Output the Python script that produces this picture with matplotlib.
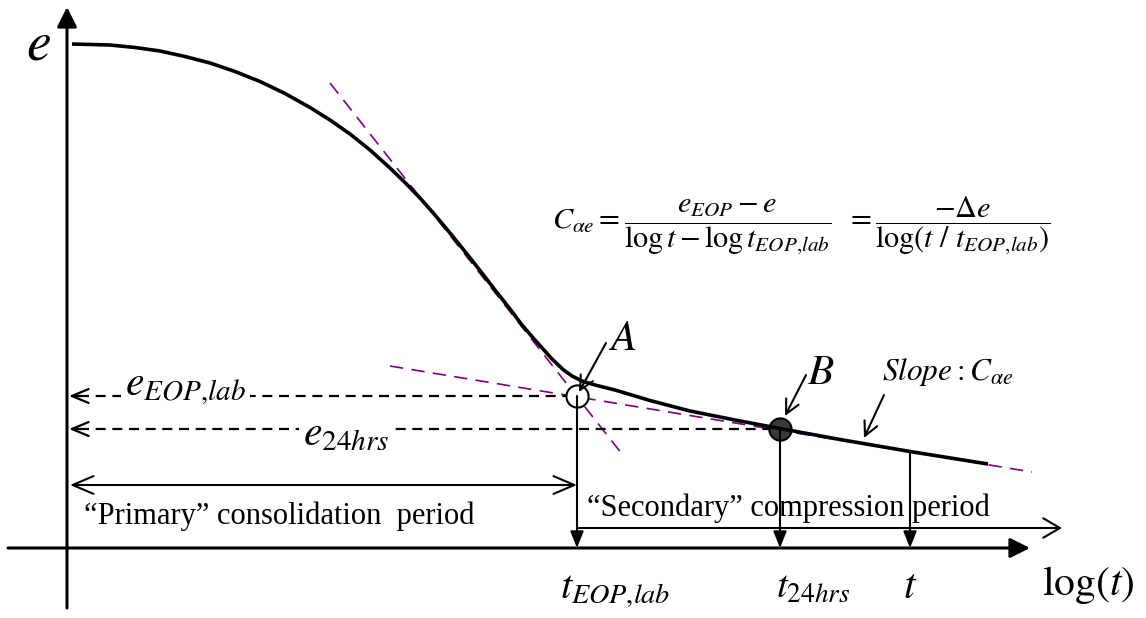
import numpy as np
import matplotlib
matplotlib.use("Agg")
import matplotlib.pyplot as plt

plt.rcParams['font.family'] = ['Liberation Serif', 'DejaVu Serif']
plt.rcParams['mathtext.fontset'] = 'stix'

# e - log(t) consolidation curve (schematic units)
log_t = [0.05, 0.43, 0.68, 0.93, 1.18, 1.43, 1.68, 1.93, 2.18, 2.43, 2.63, 2.83,
         3.03, 3.23, 3.38, 3.53, 3.68, 3.83, 3.98, 4.13, 4.28, 4.43, 4.55, 4.68,
         4.85, 4.96, 5.05, 5.15, 5.28, 5.48, 5.83, 6.23, 6.73, 7.13, 7.73, 8.43,
         9.21]
void_ratio = [5.04, 5.03, 5.005, 4.97, 4.915, 4.85, 4.765, 4.665, 4.545, 4.405, 4.28, 4.14,
              3.98, 3.80, 3.655, 3.50, 3.33, 3.15, 2.965, 2.775, 2.58, 2.39, 2.23, 2.08,
              1.89, 1.785, 1.72, 1.67, 1.63, 1.58, 1.475, 1.37, 1.27, 1.195, 1.085, 0.965,
              0.84]

# key points on the curve
t_eop, e_eop = 5.10, 1.52
t_24, e_24 = 7.13, 1.19
t_any, e_any = 8.43, 0.965

# construction lines (tangents)
steep_x, steep_y = [2.63, 5.55], [4.65, 0.94]
gentle_x, gentle_y = [3.23, 9.65], [1.82, 0.76]

fig = plt.figure(figsize=(11.46, 6.18), dpi=100)
ax = fig.add_axes([0, 0, 1, 1])
ax.set_xlim(-0.67, 10.79)
ax.set_ylim(-0.70, 5.48)
ax.axis('off')

def arrow(tail, tip, style, lw=1.5, **kw):
    ax.annotate('', xy=tip, xytext=tail,
                arrowprops=dict(arrowstyle=style, lw=lw, color='black',
                                shrinkA=0, shrinkB=0, mutation_scale=20, **kw))

# axes
arrow((0, -0.60), (0, 5.41), '-|>,head_length=0.6,head_width=0.3', lw=2.2)
arrow((-0.59, 0), (9.63, 0), '-|>,head_length=0.6,head_width=0.3', lw=2.2)

# tangent lines
purple = '#800080'
ax.plot(steep_x, steep_y, color=purple, lw=1.2, ls=(0, (8, 5)), zorder=2)
ax.plot(gentle_x, gentle_y, color=purple, lw=1.2, ls=(0, (8, 5)), zorder=2)

# dashed projections to the e axis
dash = (0, (4.5, 3))
ax.plot([0.12, t_eop], [e_eop, e_eop], color='black', lw=1.6, ls=dash, zorder=3)
ax.plot([0.12, t_24], [e_24, e_24], color='black', lw=1.6, ls=dash, zorder=3)
arrow((0.14, e_eop), (0.02, e_eop), '->,head_length=0.6,head_width=0.25', lw=1.6)
arrow((0.14, e_24), (0.02, e_24), '->,head_length=0.6,head_width=0.25', lw=1.6)

# points A and B
ax.plot(t_eop, e_eop, 'o', ms=16, mfc='white', mec='black', mew=1.5, zorder=3)
ax.plot(t_24, e_24, 'o', ms=16, mfc='#3a3a3a', mec='black', mew=1.5, zorder=3)

# main curve
ax.plot(log_t, void_ratio, color='black', lw=2.6, zorder=4,
        solid_capstyle='butt', solid_joinstyle='round')

# drop lines to the log(t) axis
head = '-|>,head_length=0.5,head_width=0.2'
arrow((t_eop, e_eop), (t_eop, 0), head)
arrow((t_24, e_24), (t_24, 0), head)
arrow((t_any, e_any), (t_any, 0), head)

# periods
arrow((0.03, 0.63), (t_eop, 0.63), '<->,head_length=0.75,head_width=0.32')
arrow((t_eop, 0.20), (9.95, 0.20), '->,head_length=0.6,head_width=0.35')

# pointer arrows
lab = '->,head_length=0.5,head_width=0.25'
arrow((5.39, 2.05), (5.12, 1.56), lab)
arrow((7.39, 1.73), (7.18, 1.32), lab)
arrow((8.17, 1.53), (7.97, 1.10), lab)

# labels
ax.text(-0.29, 4.88, r'$e$', fontsize=40, ha='center', va='baseline')
ax.text(0.58, 1.53, r'$e_{EOP{,}lab}$', fontsize=30, ha='left', va='baseline',
        bbox=dict(fc='white', ec='none', pad=3), zorder=5)
ax.text(2.36, 1.03, r'$e_{24hrs}$', fontsize=30, ha='left', va='baseline',
        bbox=dict(fc='white', ec='none', pad=3), zorder=5)
ax.text(5.41, 1.98, r'$A$', fontsize=31, ha='left', va='baseline')
ax.text(7.40, 1.64, r'$B$', fontsize=31, ha='left', va='baseline')
ax.text(8.15, 1.68, r'$Slope: C_{\alpha e}$', fontsize=22.5, ha='left', va='baseline')

ax.text(7.34, 3.22,
        r'$C_{\alpha e} = \dfrac{e_{EOP} - e}{\log t - \log t_{EOP{,}lab}}\;\;'
        r'= \dfrac{-\Delta e}{\log(t\ /\ t_{EOP{,}lab})}$',
        fontsize=21.8, ha='center', va='center')

ax.text(0.17, 0.24, u'\u201cPrimary\u201d consolidation  period', fontsize=22,
        ha='left', va='baseline')
ax.text(5.20, 0.32, u'\u201cSecondary\u201d compression period', fontsize=22,
        ha='left', va='baseline')

ax.text(4.93, -0.51, r'$t_{EOP{,}lab}$', fontsize=29, ha='left', va='baseline')
ax.text(7.09, -0.50, r'$t_{24hrs}$', fontsize=28, ha='left', va='baseline')
ax.text(t_any, -0.50, r'$t$', fontsize=30, ha='center', va='baseline')
ax.text(9.75, -0.47, r'$\log(t)$', fontsize=30, ha='left', va='baseline')

fig.savefig('out.png', dpi=100)
